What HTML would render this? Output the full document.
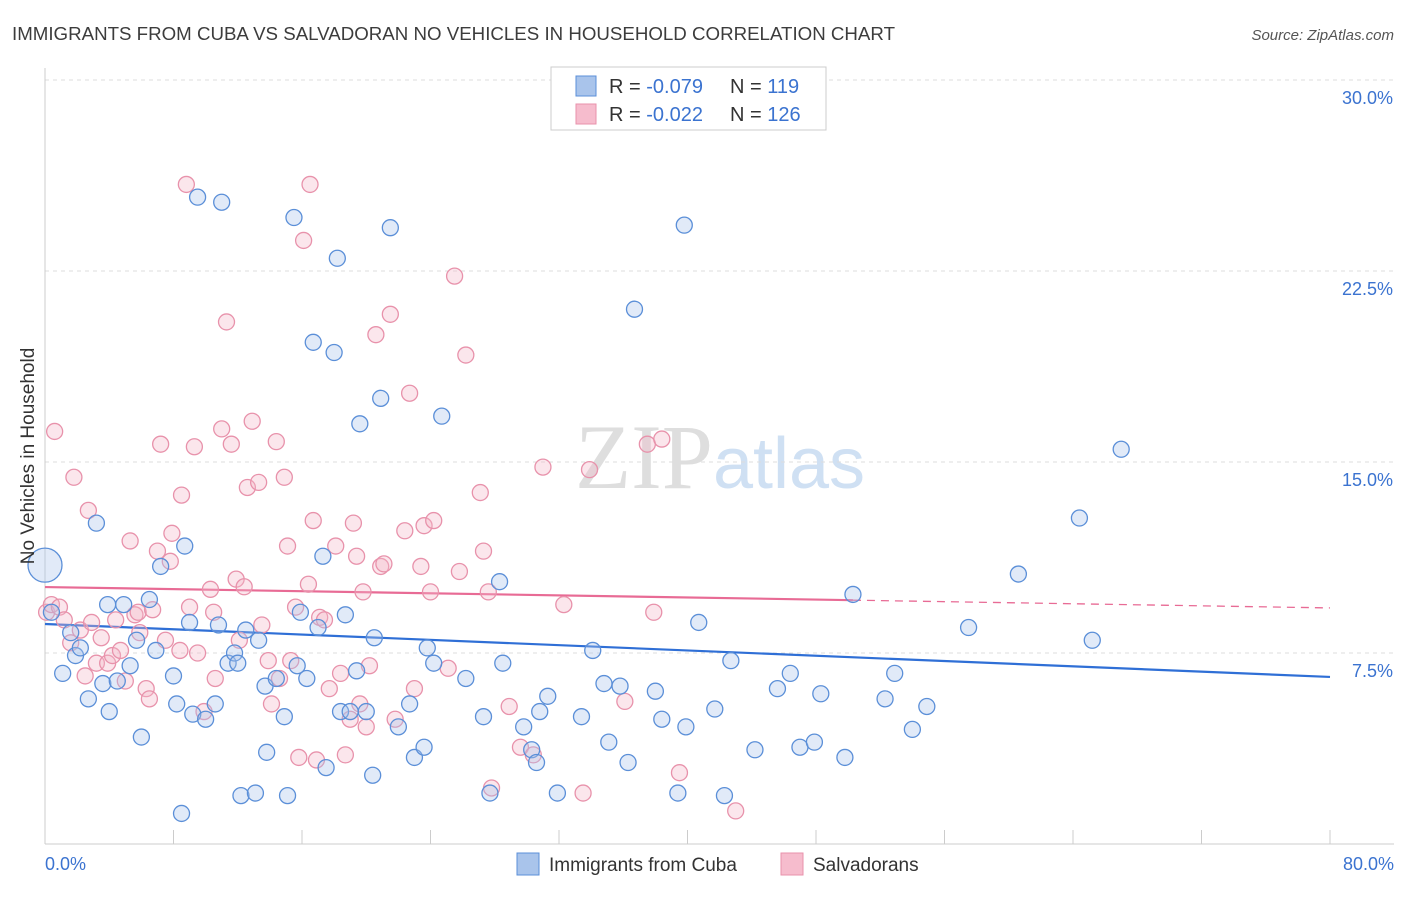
<!DOCTYPE html>
<html><head><meta charset="utf-8"><style>
body{margin:0;background:#fff;font-family:"Liberation Sans",sans-serif}
svg text{font-family:"Liberation Sans",sans-serif}
</style></head><body>
<svg id="chart" width="1406" height="892" viewBox="0 0 1406 892" xmlns="http://www.w3.org/2000/svg">
<text x="12" y="40" font-size="18" fill="#3c3c3c" textLength="883" lengthAdjust="spacingAndGlyphs">IMMIGRANTS FROM CUBA VS SALVADORAN NO VEHICLES IN HOUSEHOLD CORRELATION CHART</text>
<text x="1394" y="40" font-size="15" fill="#555" font-style="italic" text-anchor="end">Source: ZipAtlas.com</text>
<text x="720" y="488" font-size="92" text-anchor="middle"><tspan fill="#dedede" font-family="Liberation Serif">ZIP</tspan><tspan fill="#cfe0f3" font-size="72">atlas</tspan></text>
<g id="grid"></g>
<g id="axes"></g>
<g id="trend"></g>
<g id="points"></g>
<text transform="translate(34,456) rotate(-90)" font-size="19" fill="#333" text-anchor="middle">No Vehicles in Household</text>
<g>
<rect x="551" y="67" width="275" height="63" fill="#fff" stroke="#ccc"/>
<rect x="576" y="76" width="20" height="20" fill="#a9c4eb" stroke="#5b8fd8"/>
<rect x="576" y="104" width="20" height="20" fill="#f6bccd" stroke="#e892ab"/>
<text x="609" y="93" font-size="20" fill="#333">R = <tspan fill="#3b73d0">-0.079</tspan></text>
<text x="730" y="93" font-size="20" fill="#333">N = <tspan fill="#3b73d0">119</tspan></text>
<text x="609" y="121" font-size="20" fill="#333">R = <tspan fill="#3b73d0">-0.022</tspan></text>
<text x="730" y="121" font-size="20" fill="#333">N = <tspan fill="#3b73d0">126</tspan></text>
</g>
<g>
<rect x="517" y="853" width="22" height="22" fill="#a9c4eb" stroke="#5b8fd8"/>
<text x="549" y="871" font-size="19" fill="#333">Immigrants from Cuba</text>
<rect x="781" y="853" width="22" height="22" fill="#f6bccd" stroke="#e892ab"/>
<text x="813" y="871" font-size="19" fill="#333">Salvadorans</text>
</g>
</svg>
<script>
const yTicks=[7.5,15,22.5,30];
const yTickLabels=["7.5%","15.0%","22.5%","30.0%"];
const xTickVals=[0,8,16,24,32,40,48,56,64,72,80];
const xEndLabels=["0.0%","80.0%"];
const cubaX=[0.0,0.4,1.1,1.6,1.9,2.2,2.7,3.2,3.6,3.9,4.0,4.5,4.9,5.3,5.7,6.0,6.5,6.9,7.2,8.0,8.2,8.7,9.0,9.2,9.5,10.0,10.6,10.8,11.0,11.4,11.8,12.0,12.2,12.5,13.1,13.3,13.7,13.8,14.4,14.9,15.1,15.5,15.7,15.9,16.3,16.7,17.0,17.3,17.5,18.0,18.2,18.4,18.7,19.0,19.4,19.6,20.0,20.4,20.5,20.9,21.5,22.0,22.7,23.0,23.6,23.8,24.2,24.7,26.2,27.3,27.7,28.3,28.5,29.8,30.3,30.6,30.8,31.3,31.9,33.4,34.1,34.8,35.1,35.8,36.3,36.7,38.0,38.4,39.4,39.8,39.9,40.7,41.7,42.3,42.7,44.2,45.6,46.4,47.0,47.9,48.3,49.8,50.3,52.3,52.9,54.0,54.9,57.5,60.6,64.4,65.2,67.0,8.5];
const cubaY=[10.95,9.1,6.7,8.3,7.4,7.7,5.7,12.6,6.3,9.4,5.2,6.4,9.4,7.0,8.0,4.2,9.6,7.6,10.9,6.6,5.5,11.7,8.7,5.1,25.4,4.9,5.5,8.6,25.2,7.1,7.5,7.1,1.9,8.4,2.0,8.0,6.2,3.6,6.5,5.0,1.9,24.6,7.0,9.1,6.5,19.7,8.5,11.3,3.0,19.3,23.0,5.2,9.0,5.2,6.8,16.5,5.2,2.7,8.1,17.5,24.2,4.6,5.5,3.4,3.8,7.7,7.1,16.8,6.5,5.0,2.0,10.3,7.1,4.6,3.7,3.2,5.2,5.8,2.0,5.0,7.6,6.3,4.0,6.2,3.2,21.0,6.0,4.9,2.0,24.3,4.6,8.7,5.3,1.9,7.2,3.7,6.1,6.7,3.8,4.0,5.9,3.4,9.8,5.7,6.7,4.5,5.4,8.5,10.6,12.8,8.0,15.5,1.2];
const salvX=[0.6,0.1,0.4,0.9,1.2,1.6,1.8,2.2,2.5,2.7,2.9,3.2,3.5,3.9,4.2,4.4,4.7,5.0,5.3,5.6,5.8,5.9,6.3,6.5,6.7,7.0,7.2,7.5,7.8,7.9,8.4,8.5,8.8,9.0,9.3,9.5,9.9,10.3,10.5,10.6,11.0,11.3,11.6,11.9,12.1,12.4,12.6,12.9,13.3,13.5,13.9,14.1,14.4,14.6,14.9,15.1,15.3,15.6,15.8,16.1,16.4,16.5,16.7,16.9,17.1,17.4,17.7,18.1,18.4,18.7,19.0,19.2,19.4,19.6,19.8,20.0,20.2,20.6,20.9,21.1,21.5,21.8,22.4,22.7,23.0,23.4,23.6,24.0,24.2,25.1,25.5,25.8,26.2,27.1,27.3,27.6,27.8,28.9,29.6,30.4,31.0,32.3,33.5,33.9,36.1,37.5,37.9,38.4,39.5,43.0];
const salvY=[16.2,9.1,9.4,9.3,8.8,7.9,14.4,8.4,6.6,13.1,8.7,7.1,8.1,7.1,7.4,8.8,7.6,6.4,11.9,9.0,9.1,8.3,6.1,5.7,9.2,11.5,15.7,8.0,11.1,12.2,7.6,13.7,25.9,9.3,15.6,7.5,5.2,10.0,9.1,6.5,16.3,20.5,15.7,10.4,8.0,10.1,14.0,16.6,14.2,8.6,7.2,5.5,15.8,6.5,14.4,11.7,7.2,9.3,3.4,23.7,10.2,25.9,12.7,3.3,8.9,8.8,6.1,11.7,6.7,3.5,4.9,12.6,11.3,5.5,9.9,4.6,7.0,20.0,10.9,11.0,20.8,4.9,12.3,17.7,6.1,10.9,12.5,9.9,12.7,6.9,22.3,10.7,19.2,13.8,11.5,9.9,2.2,5.4,3.8,3.5,14.8,9.4,2.0,14.7,5.6,15.7,9.1,15.9,2.8,1.3];
const cubaTrend=[8.64,6.56];
const salvTrend=[10.09,9.27];
const salvSolidEnd=50.3;

const NS="http://www.w3.org/2000/svg";
const X0=45,X1=1330,Y0=844,PXY=764/30;
const sx=v=>X0+(v/80)*(X1-X0);
const sy=v=>Y0-v*PXY;
function mk(tag,attrs,parent){const e=document.createElementNS(NS,tag);for(const k in attrs)e.setAttribute(k,attrs[k]);parent.appendChild(e);return e;}
const grid=document.getElementById('grid'),axes=document.getElementById('axes'),trend=document.getElementById('trend'),pts=document.getElementById('points');
yTicks.forEach((t,i)=>{
  const l=mk('line',{x1:X0,x2:1394,y1:sy(t),y2:sy(t),stroke:'#ddd','stroke-dasharray':'4,4'},grid);
  
  
  const tx=mk('text',{x:1393,y:sy(t)+24,'font-size':18,fill:'#3b73d0','text-anchor':'end'},grid);
  tx.textContent=yTickLabels[i];
  
  
});
const ya=mk('line',{x1:X0,x2:X0,y1:68,y2:Y0,stroke:'#ccc'},axes);


const xa=mk('line',{x1:X0,x2:1394,y1:Y0,y2:Y0,stroke:'#ccc'},axes);


xTickVals.forEach(v=>{
  const t=mk('line',{x1:sx(v),x2:sx(v),y1:Y0,y2:Y0-14,stroke:'#ccc'},axes);
  
  
});
[[0,'start',45],[80,'end',1394]].forEach((d,i)=>{
  const t=mk('text',{x:d[2],y:870,'font-size':18,fill:'#3b73d0','text-anchor':d[1]},axes);
  t.textContent=xEndLabels[i];
  
  
});
function dots(xs,ys,fill,stroke,name){
  xs.forEach((x,i)=>{
    const c=mk('circle',{cx:sx(x),cy:sy(ys[i]),r:(i===0&&name==='cuba-point')?17:8,fill:fill,'fill-opacity':0.35,stroke:stroke,'stroke-width':1.3},pts);
    
    
  });
}
dots(salvX,salvY,'#f4b6c8','#e892ab','salvadoran-point');
dots(cubaX,cubaY,'#a9c4eb','#5b8fd8','cuba-point');
const lb=mk('line',{x1:sx(0),y1:sy(cubaTrend[0]),x2:sx(80),y2:sy(cubaTrend[1]),stroke:'#2f6fd6','stroke-width':2.2},trend);


const pe=salvTrend[0]+(salvTrend[1]-salvTrend[0])*salvSolidEnd/80;
const lp=mk('line',{x1:sx(0),y1:sy(salvTrend[0]),x2:sx(salvSolidEnd),y2:sy(pe),stroke:'#e86b95','stroke-width':2.2},trend);


const lpd=mk('line',{x1:sx(salvSolidEnd),y1:sy(pe),x2:sx(80),y2:sy(salvTrend[1]),stroke:'#e86b95','stroke-width':1.3,'stroke-dasharray':'8,6'},trend);


</script>
</body></html>
